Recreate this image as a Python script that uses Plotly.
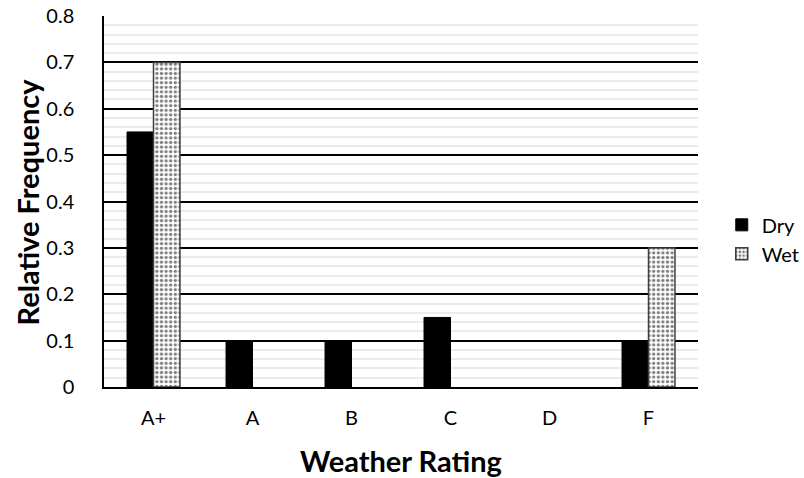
import plotly.graph_objects as go

categories = ["A+", "A", "B", "C", "D", "F"]
dry = [0.55, 0.1, 0.1, 0.15, 0, 0.1]
wet = [0.7, 0, 0, 0, 0, 0.3]
ytick_vals = [0, 0.1, 0.2, 0.3, 0.4, 0.5, 0.6, 0.7, 0.8]
ytick_text = ["0", "0.1", "0.2", "0.3", "0.4", "0.5", "0.6", "0.7", "0.8"]

FONT = "Lato, Carlito, Calibri, sans-serif"

fig = go.Figure()
fig.add_trace(go.Bar(
    name="Dry", x=categories, y=dry,
    marker=dict(color="black",
                line=dict(color="black", width=[1 if v else 0 for v in dry])),
    legendgroup="dry",
))
fig.add_trace(go.Bar(
    name="Wet", x=categories, y=wet,
    marker=dict(
        color="white",
        line=dict(color="#404040", width=[1.5 if v else 0 for v in wet]),
        pattern=dict(shape=".", fgcolor="black", bgcolor="white", size=4.6, solidity=0.42),
    ),
    legendgroup="wet",
))

fig.update_layout(
    width=804, height=478,
    margin=dict(l=104, r=106, t=16, b=91, autoexpand=False),
    paper_bgcolor="white", plot_bgcolor="white",
    font=dict(family=FONT, size=20, color="black"),
    barmode="group", bargap=0.465, bargroupgap=0,
    showlegend=True,
    legend=dict(x=1.040, y=0.398, xanchor="left", yanchor="middle",
                font=dict(size=20), traceorder="grouped", tracegroupgap=0,
                itemwidth=30),
    xaxis=dict(
        showline=True, linecolor="black", linewidth=1.5,
        showgrid=False, ticks="", ticklabelstandoff=12,
        tickfont=dict(size=20), automargin=False, ticklabeloverflow="allow",
    ),
    yaxis=dict(
        range=[0, 0.8], tickvals=ytick_vals, ticktext=ytick_text,
        showline=True, linecolor="black", linewidth=1.5, mirror=False,
        showgrid=True, gridcolor="black", gridwidth=1.5,
        zeroline=False, ticks="", ticklabelstandoff=24,
        tickfont=dict(size=20), automargin=False, ticklabeloverflow="allow",
        minor=dict(dtick=0.02, showgrid=True, gridcolor="#ebebeb", gridwidth=1.5),
    ),
    annotations=[
        dict(text="<b>Weather Rating</b>", xref="paper", yref="paper",
             x=0.5, y=-0.197, xanchor="center", yanchor="middle",
             showarrow=False, font=dict(size=29)),
        dict(text="<b>Relative Frequency</b>", xref="paper", yref="paper",
             x=-0.128, y=0.5, xanchor="center", yanchor="middle", textangle=-90,
             showarrow=False, font=dict(size=29)),
    ],
)

fig.write_html("out.html", config={"displayModeBar": False},
               post_script="document.body.style.margin='0';document.body.style.overflow='hidden';")
